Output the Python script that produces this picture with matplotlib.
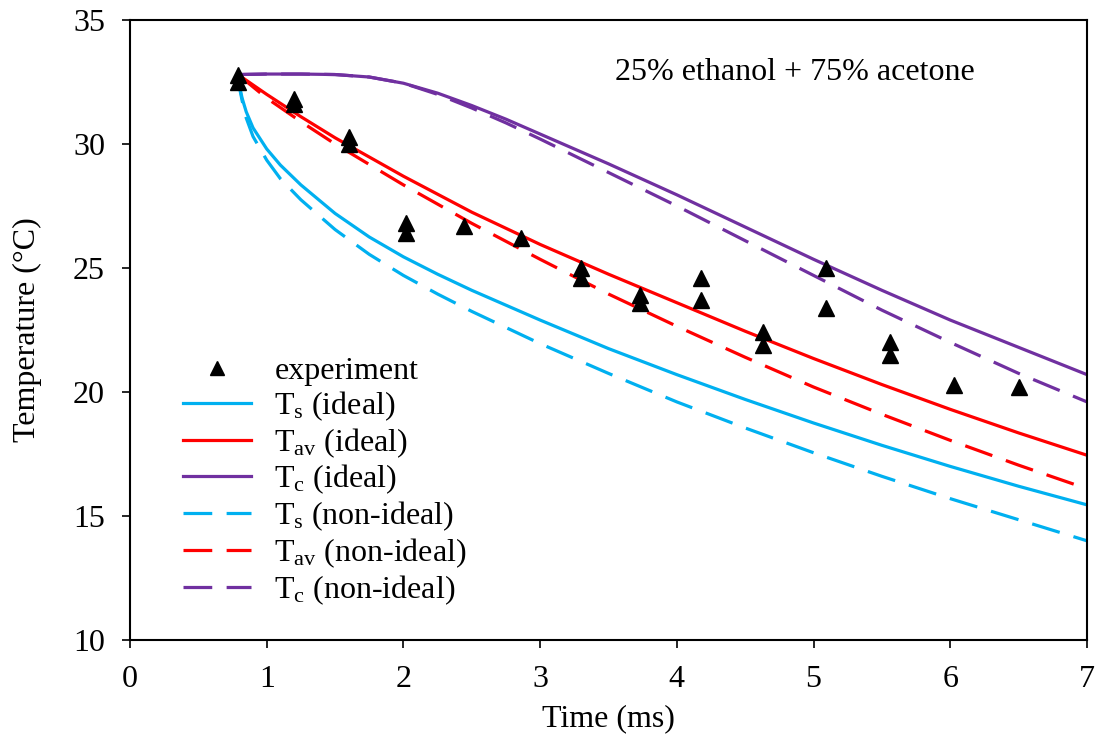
import matplotlib
matplotlib.use("Agg")
import matplotlib.pyplot as plt

plt.rcParams['font.family'] = ['Liberation Serif', 'DejaVu Serif']
plt.rcParams['mathtext.fontset'] = 'custom'
plt.rcParams['mathtext.rm'] = 'Liberation Serif'
plt.rcParams['mathtext.it'] = 'Liberation Serif:italic'

# experiment (time in ms, temperature in degC)
exp_t = [0.79, 0.79, 1.20, 1.20, 1.60, 1.60, 2.02, 2.02, 2.44, 2.86,
         3.30, 3.30, 3.73, 3.73, 4.18, 4.18, 4.63, 4.63, 5.09, 5.09,
         5.56, 5.56, 6.03, 6.50]
exp_T = [32.8, 32.5, 31.8, 31.6, 30.3, 30.0, 26.8, 26.4, 26.7, 26.2,
         25.0, 24.6, 23.9, 23.6, 24.6, 23.7, 22.4, 21.9, 25.0, 23.4,
         22.0, 21.5, 20.3, 20.2]

# surface temperature
t_s = [0.79, 0.80, 0.82, 0.85, 0.9, 1.0, 1.1, 1.25, 1.5, 1.75, 2.0, 2.25,
       2.5, 3.0, 3.5, 4.0, 4.5, 5.0, 5.5, 6.0, 6.5, 7.0]
Ts_ideal = [32.8, 32.35, 31.85, 31.3, 30.65, 29.8, 29.15, 28.35, 27.2, 26.25,
            25.45, 24.75, 24.1, 22.9, 21.75, 20.7, 19.7, 18.75, 17.85, 17.0,
            16.2, 15.45]
Ts_nonideal = [32.8, 32.3, 31.75, 31.05, 30.3, 29.35, 28.6, 27.75, 26.55,
               25.55, 24.7, 23.95, 23.25, 21.95, 20.75, 19.6, 18.55, 17.55,
               16.6, 15.7, 14.85, 14.0]

# average temperature
t_av = [0.79, 0.9, 1.0, 1.25, 1.5, 2.0, 2.5, 3.0, 3.5, 4.0, 4.5, 5.0, 5.5,
        6.0, 6.5, 7.0]
Tav_ideal = [32.8, 32.38, 32.0, 31.1, 30.25, 28.7, 27.25, 25.95, 24.75, 23.6,
             22.45, 21.35, 20.3, 19.3, 18.35, 17.45]
Tav_nonideal = [32.8, 32.3, 31.85, 30.9, 30.0, 28.35, 26.8, 25.35, 23.95,
                22.65, 21.4, 20.2, 19.1, 18.05, 17.05, 16.1]

# centre temperature
t_c = [0.79, 1.0, 1.25, 1.5, 1.75, 2.0, 2.25, 2.5, 2.75, 3.0, 3.5, 4.0, 4.5,
       5.0, 5.5, 6.0, 6.5, 7.0]
Tc_ideal = [32.8, 32.82, 32.82, 32.8, 32.7, 32.45, 32.05, 31.55, 31.0, 30.4,
            29.2, 27.95, 26.65, 25.35, 24.1, 22.9, 21.8, 20.7]
Tc_nonideal = [32.8, 32.82, 32.82, 32.8, 32.7, 32.45, 32.0, 31.45, 30.85,
               30.2, 28.85, 27.5, 26.1, 24.7, 23.3, 22.0, 20.75, 19.6]

blue = '#00b0f0'
red = '#ff0000'
purple = '#7030a0'

fig = plt.figure(figsize=(10.98, 7.40), dpi=100)
ax = fig.add_axes([0.1184, 0.1351, 0.8716, 0.8379])

lw = 2.3
dash = (9, 4.5)
fs = 23
ax.plot(exp_t, exp_T, linestyle='none', marker='^', color='black',
        markersize=11, label='experiment', zorder=5)
ax.plot(t_s, Ts_ideal, color=blue, lw=lw, label=r'T$_\mathrm{s}$ (ideal)')
ax.plot(t_av, Tav_ideal, color=red, lw=lw, label=r'T$_\mathrm{av}$ (ideal)')
ax.plot(t_c, Tc_ideal, color=purple, lw=lw, label=r'T$_\mathrm{c}$ (ideal)')
ax.plot(t_s, Ts_nonideal, color=blue, lw=lw, dashes=dash,
        label=r'T$_\mathrm{s}$ (non-ideal)')
ax.plot(t_av, Tav_nonideal, color=red, lw=lw, dashes=dash,
        label=r'T$_\mathrm{av}$ (non-ideal)')
ax.plot(t_c, Tc_nonideal, color=purple, lw=lw, dashes=dash,
        label=r'T$_\mathrm{c}$ (non-ideal)')

ax.set_xlim(0, 7)
ax.set_ylim(10, 35)
ax.set_xticks(range(0, 8))
ax.set_yticks(range(10, 36, 5))
ax.tick_params(labelsize=fs, direction='out', length=6, width=1.2, pad=12)
for s in ax.spines.values():
    s.set_linewidth(1.5)

ax.set_xlabel('Time (ms)', fontsize=fs, labelpad=7)
ax.set_ylabel('Temperature (°C)', fontsize=fs)
ax.yaxis.set_label_coords(-0.092, 0.5)

ax.text(3.55, 32.9, '25% ethanol + 75% acetone', fontsize=fs, va='center')

leg = ax.legend(loc='upper left', bbox_to_anchor=(0.055, 0.457), frameon=False,
                fontsize=fs, handlelength=2.15, handletextpad=0.72,
                labelspacing=0.1, markerscale=0.9, borderaxespad=0,
                borderpad=0)

fig.savefig('out.png', dpi=100)
